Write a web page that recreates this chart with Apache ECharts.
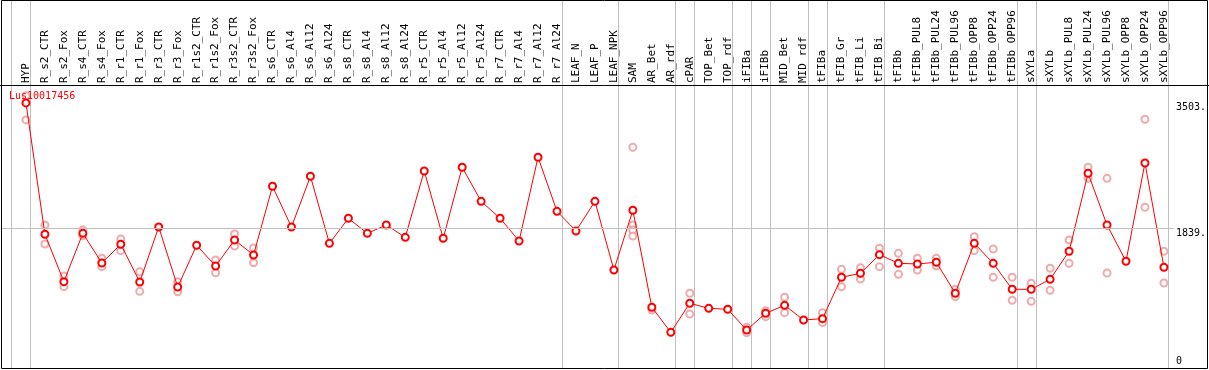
<!DOCTYPE html>
<html>
<head>
<meta charset="utf-8">
<script src="https://cdn.jsdelivr.net/npm/echarts@6/dist/echarts.min.js"></script>
<style>
html,body{margin:0;padding:0;background:#fff;}
#chart{width:1209px;height:370px;}
</style>
</head>
<body>
<div id="chart"></div>
<script>
const title = 'Lus10017456';
const categories = ['HYP','R_s2_CTR','R_s2_Fox','R_s4_CTR','R_s4_Fox','R_r1_CTR','R_r1_Fox','R_r3_CTR','R_r3_Fox','R_r1s2_CTR','R_r1s2_Fox','R_r3s2_CTR','R_r3s2_Fox','R_s6_CTR','R_s6_Al4','R_s6_Al12','R_s6_Al24','R_s8_CTR','R_s8_Al4','R_s8_Al12','R_s8_Al24','R_r5_CTR','R_r5_Al4','R_r5_Al12','R_r5_Al24','R_r7_CTR','R_r7_Al4','R_r7_Al12','R_r7_Al24','LEAF_N','LEAF_P','LEAF_NPK','SAM','AR_Bet','AR_rdf','cPAR','TOP_Bet','TOP_rdf','iFIBa','iFIBb','MID_Bet','MID_rdf','tFIBa','tFIB_Gr','tFIB_Li','tFIB_Bi','tFIBb','tFIBb_PUL8','tFIBb_PUL24','tFIBb_PUL96','tFIBb_OPP8','tFIBb_OPP24','tFIBb_OPP96','sXYLa','sXYLb','sXYLb_PUL8','sXYLb_PUL24','sXYLb_PUL96','sXYLb_OPP8','sXYLb_OPP24','sXYLb_OPP96'];
const means = [3503,1754,1124,1767,1372,1621,1119,1851,1053,1608,1332,1678,1479,2393,1851,2526,1634,1967,1767,1878,1714,2597,1701,2646,2193,1967,1665,2779,2060,1798,2193,1279,2074,783,450,836,769,756,480,703,809,614,631,1182,1235,1483,1368,1359,1382,969,1634,1368,1022,1022,1155,1528,2566,1878,1395,2703,1315];
const replicates = [[3598,3276],[1878,1625],[1199,1057],[1811,1736],[1435,1323],[1692,1536],[1256,995],[],[1124,990],[],[1412,1243],[1758,1599],[1572,1376],[],[],[],[],[],[],[],[],[],[],[],[],[],[],[],[],[],[],[],[2912,1878,1811,1732],[747],[],[969,693],[],[],[516,445],[737,658],[916,711],[],[711,578],[1288,1057],[1310,1159],[1568,1323],[1501,1222],[1435,1279],[1435,1332],[1022,924],[1723,1536],[1559,1182],[1182,876],[1102,862],[1302,1009],[1678,1368],[2646,2499],[2499,1239],[],[3285,2114],[1528,1106]];
const groupEnds = [-1,0,28,31,34,35,37,38,39,41,42,45,52,53,60];
const yTickLabels = [1839, 3503];
const yZeroLabel = [0];
const refLine = 1839;
const yMax = 3741;

const meanData = means.map((v,i)=>[i,v]);
const repData = [];
replicates.forEach((arr,i)=>arr.forEach(v=>repData.push([i,v])));
const idx = categories.map((c,i)=>i);

const chart = echarts.init(document.getElementById('chart'), null, {renderer:'canvas'});
const mono = 'DejaVu Sans Mono';
chart.setOption({
  animation:false,
  backgroundColor:'#fff',
  title:{text:title, left:9, top:91, padding:0, textStyle:{color:'#ff0000', fontFamily:mono, fontSize:10, fontWeight:'normal'}},
  grid:{left:2, right:33, top:85, height:281.1},
  xAxis:{type:'value', min:-1.263, max:60.526, position:'top',
    axisLine:{show:false}, axisTick:{show:false}, splitLine:{show:false},
    axisLabel:{customValues:idx, formatter:v=>categories[Math.round(v)], rotate:90, margin:2, fontFamily:mono, fontSize:11, color:'#000'}},
  yAxis:[
    {type:'value', min:0, max:yMax, position:'right', axisLine:{show:false}, axisTick:{show:false}, splitLine:{show:false},
     axisLabel:{customValues:yTickLabels, formatter:v=>v+'.', verticalAlign:'top', margin:2, fontFamily:mono, fontSize:10, color:'#000'}},
    {type:'value', min:0, max:yMax, position:'right', axisLine:{show:false}, axisTick:{show:false}, splitLine:{show:false},
     axisLabel:{customValues:yZeroLabel, formatter:v=>String(v), verticalAlign:'bottom', margin:2, fontFamily:mono, fontSize:10, color:'#000'}}
  ],
  graphic:[
    {type:'rect', shape:{x:1.5, y:0.5, width:1206, height:368}, style:{fill:null, stroke:'#000', lineWidth:1}, z:100},
    {type:'line', shape:{x1:0, y1:85.5, x2:1209, y2:85.5}, style:{stroke:'#000', lineWidth:1}, z:100}
  ],
  series:[
    {type:'custom', data:groupEnds.map(g=>[g,0]), encode:{x:0,y:1}, clip:false, silent:true, z:1,
     renderItem:(params, api)=>{
       const x = Math.round(api.coord([api.value(0),0])[0] + 4.5) + 0.5;
       return {type:'line', shape:{x1:x, y1:0, x2:x, y2:369}, style:{stroke:'#c0c0c0', lineWidth:1}};
     }},
    {type:'scatter', data:repData, symbol:'emptyCircle', symbolSize:7, z:2,
     itemStyle:{color:'#eb9696', borderColor:'#eb9696', borderWidth:1}},
    {type:'line', data:meanData, symbol:'emptyCircle', symbolSize:7, z:3,
     lineStyle:{color:'#ff0000', width:1}, itemStyle:{color:'#ff0000', borderColor:'#ff0000', borderWidth:1.5},
     markLine:{silent:true, symbol:'none', label:{show:false}, lineStyle:{color:'#c0c0c0', type:'solid', width:1},
       data:[{yAxis:refLine}]}}
  ]
});
</script>
</body>
</html>
